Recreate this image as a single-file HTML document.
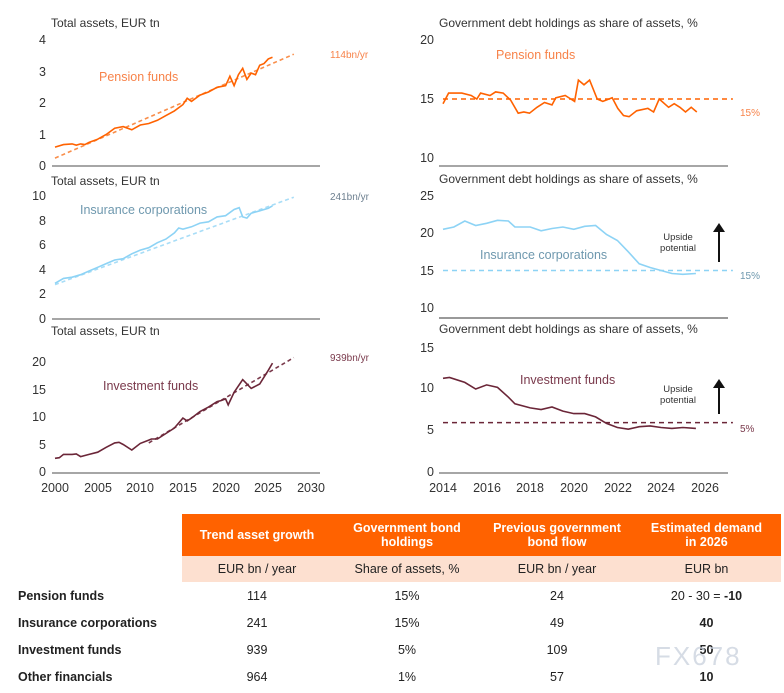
<!DOCTYPE html>
<html><head><meta charset="utf-8"><style>
body{margin:0;background:#fff;width:784px;height:693px;overflow:hidden;font-family:"Liberation Sans",sans-serif}
svg{position:absolute;left:0;top:0}
.t{font-size:12px;fill:#333}
.tk{font-size:12.5px;fill:#333}
table{position:absolute;left:0;top:514px;border-collapse:collapse;font-size:12.5px;color:#222}
td{padding:0;text-align:center}
</style></head><body>
<svg id="s" width="784" height="693" xmlns="http://www.w3.org/2000/svg">
<g fill="none" stroke="#888" stroke-width="1.5">
<line x1="52" y1="166" x2="320" y2="166"/><line x1="52" y1="319" x2="320" y2="319"/><line x1="52" y1="473" x2="320" y2="473"/>
<line x1="439" y1="166" x2="728" y2="166"/><line x1="439" y1="318" x2="728" y2="318" stroke="#333" stroke-width="1"/><line x1="439" y1="473" x2="728" y2="473"/>
</g>
<g class="t"><text x="51" y="27">Total assets, EUR tn</text><text x="51" y="185">Total assets, EUR tn</text><text x="51" y="335">Total assets, EUR tn</text>
<text x="439" y="27">Government debt holdings as share of assets, %</text><text x="439" y="183">Government debt holdings as share of assets, %</text><text x="439" y="333">Government debt holdings as share of assets, %</text></g>
<g class="tk" text-anchor="end">
<text x="46" y="44">4</text><text x="46" y="76">3</text><text x="46" y="107">2</text><text x="46" y="139">1</text><text x="46" y="170">0</text>
<text x="46" y="200">10</text><text x="46" y="225">8</text><text x="46" y="249">6</text><text x="46" y="274">4</text><text x="46" y="298">2</text><text x="46" y="323">0</text>
<text x="46" y="366">20</text><text x="46" y="394">15</text><text x="46" y="421">10</text><text x="46" y="449">5</text><text x="46" y="476">0</text>
<text x="434" y="44">20</text><text x="434" y="103">15</text><text x="434" y="162">10</text>
<text x="434" y="200">25</text><text x="434" y="237">20</text><text x="434" y="275">15</text><text x="434" y="312">10</text>
<text x="434" y="352">15</text><text x="434" y="392">10</text><text x="434" y="434">5</text><text x="434" y="476">0</text>
</g>
<g class="tk" text-anchor="middle">
<text x="55" y="492">2000</text><text x="98" y="492">2005</text><text x="140" y="492">2010</text><text x="183" y="492">2015</text><text x="226" y="492">2020</text><text x="268" y="492">2025</text><text x="311" y="492">2030</text>
<text x="443" y="492">2014</text><text x="487" y="492">2016</text><text x="530" y="492">2018</text><text x="574" y="492">2020</text><text x="618" y="492">2022</text><text x="661" y="492">2024</text><text x="705" y="492">2026</text>
</g>
<g font-size="12.5">
<text x="99" y="81" fill="#F7834A">Pension funds</text>
<text x="80" y="214" fill="#6E98AE">Insurance corporations</text>
<text x="103" y="390" fill="#7A3A4C">Investment funds</text>
<text x="496" y="59" fill="#F7834A">Pension funds</text>
<text x="480" y="259" fill="#6E98AE">Insurance corporations</text>
<text x="520" y="384" fill="#7A3A4C">Investment funds</text>
</g>
<g font-size="10">
<text x="330" y="58" fill="#F7834A">114bn/yr</text>
<text x="330" y="200" fill="#6E8090">241bn/yr</text>
<text x="330" y="361" fill="#7A3A4C">939bn/yr</text>
<text x="740" y="116" fill="#F7834A">15%</text>
<text x="740" y="279" fill="#6E98AE">15%</text>
<text x="740" y="432" fill="#7A3A4C">5%</text>
</g>
<g font-size="9.5" fill="#333" text-anchor="middle">
<text x="678" y="240">Upside</text><text x="678" y="251">potential</text>
<text x="678" y="392">Upside</text><text x="678" y="403">potential</text>
</g>
<g stroke="#111" stroke-width="2"><line x1="719" y1="262" x2="719" y2="230"/><line x1="719" y1="414" x2="719" y2="386"/></g>
<g fill="#111"><polygon points="713,232 725,232 719,223"/><polygon points="713,388 725,388 719,379"/></g>
<g id="g"></g>
</svg>
<table>
<tr style="height:42px"><td style="width:182px"></td>
<td style="width:150px;background:#FF6200;color:#fff;font-weight:bold">Trend asset growth</td>
<td style="width:150px;background:#FF6200;color:#fff;font-weight:bold">Government bond<br>holdings</td>
<td style="width:150px;background:#FF6200;color:#fff;font-weight:bold">Previous government<br>bond flow</td>
<td style="width:149px;background:#FF6200;color:#fff;font-weight:bold">Estimated demand<br>in 2026</td></tr>
<tr style="height:26px"><td></td><td style="background:#FDE0D0">EUR bn / year</td><td style="background:#FDE0D0">Share of assets, %</td><td style="background:#FDE0D0">EUR bn / year</td><td style="background:#FDE0D0">EUR bn</td></tr>
<tr style="height:27px"><td style="text-align:left;padding-left:18px;font-weight:bold">Pension funds</td><td>114</td><td>15%</td><td>24</td><td>20 - 30 = <b>-10</b></td></tr>
<tr style="height:27px"><td style="text-align:left;padding-left:18px;font-weight:bold">Insurance corporations</td><td>241</td><td>15%</td><td>49</td><td><b>40</b></td></tr>
<tr style="height:27px"><td style="text-align:left;padding-left:18px;font-weight:bold">Investment funds</td><td>939</td><td>5%</td><td>109</td><td><b>50</b></td></tr>
<tr style="height:27px"><td style="text-align:left;padding-left:18px;font-weight:bold">Other financials</td><td>964</td><td>1%</td><td>57</td><td><b>10</b></td></tr>
</table>
<div style="position:absolute;left:655px;top:641px;font-size:26px;color:rgba(200,208,220,0.75);letter-spacing:2px">FX678</div>
<script>
var G=document.getElementById('g'),NS='http://www.w3.org/2000/svg';
function pl(d,fx,fy,col,dash,w){var p=document.createElementNS(NS,'polyline');var s=[];for(var i=0;i<d.length;i+=2)s.push(fx(d[i]).toFixed(1)+','+fy(d[i+1]).toFixed(1));p.setAttribute('points',s.join(' '));p.setAttribute('fill','none');p.setAttribute('stroke',col);p.setAttribute('stroke-width',w||1.6);if(dash)p.setAttribute('stroke-dasharray',dash);G.appendChild(p);}
var LX=function(y){return 55+(y-2000)*8.53},RX=function(y){return 443+(y-2014)*21.8};
var PX=function(y){return 443+(y-2014)*18.8};
var OR='#FF6200',BL='#8DD3F5',MR='#6B2638';
pl([2000,0.25,2028,3.55],LX,function(v){return 166-31.5*v},'#F98E4A','4,3');
pl([2000,0.6,2001,0.68,2002,0.7,2002.5,0.66,2003,0.7,2003.5,0.68,2004,0.75,2005,0.85,2006,1.0,2007,1.2,2008,1.25,2009,1.15,2010,1.3,2011,1.35,2012,1.45,2013,1.6,2014,1.75,2015,1.95,2015.5,2.15,2016,2.05,2017,2.25,2018,2.35,2019,2.5,2020,2.55,2020.5,2.85,2021,2.55,2021.5,2.9,2022,3.1,2022.5,2.75,2023,2.95,2023.5,2.9,2024,3.2,2024.5,3.25,2025,3.4,2025.5,3.45],LX,function(v){return 166-31.5*v},OR);
pl([2000,2.8,2028,9.9],LX,function(v){return 319-12.3*v},'#A8DDF7','4,3');
pl([2000,2.9,2001,3.3,2002,3.4,2003,3.6,2004,3.9,2005,4.2,2006,4.5,2007,4.8,2008,4.9,2009,5.3,2010,5.6,2011,5.8,2012,6.2,2013,6.5,2014,7.0,2014.5,7.4,2015,7.3,2016,7.5,2017,7.8,2018,7.9,2019,8.3,2020,8.4,2021,8.9,2021.6,9.05,2022,8.3,2022.5,8.2,2023,8.6,2024,8.8,2025,9.0,2025.5,9.2],LX,function(v){return 319-12.3*v},BL);
pl([2011,5.3,2028,20.8],LX,function(v){return 472-5.5*v},'#7A3A4C','4,3');
pl([2000,2.5,2000.5,2.6,2001,3.2,2002,3.2,2002.5,3.3,2003,2.8,2004,3.2,2005,3.6,2006,4.5,2007,5.3,2007.5,5.4,2008,5.0,2009,4.0,2010,5.2,2011,5.8,2011.3,6.0,2012,6.0,2013,7.0,2014,8.0,2015,9.8,2015.5,9.3,2016,9.8,2017,11,2018,11.8,2019,12.8,2019.5,13.0,2020,13.3,2020.3,12.2,2021,14.5,2022,16.8,2023,15.2,2023.5,15.6,2024,16,2025,18.5,2025.5,19.8],LX,function(v){return 472-5.5*v},MR);
pl([2014,15,2027.3,15],RX,function(v){return 40+(20-v)*11.8},OR,'5,4',1.5);
pl([2014,14.6,2014.3,15.5,2015,15.5,2015.5,15.3,2015.8,15.0,2016,15.5,2016.5,15.3,2016.8,15.6,2017.2,15.5,2017.6,14.9,2018,13.8,2018.3,13.9,2018.6,13.8,2019,14.3,2019.4,14.7,2019.8,14.5,2020,15.1,2020.5,15.3,2020.8,15.0,2021.0,14.8,2021.2,16.6,2021.5,16.2,2021.8,16.6,2022.2,15.0,2022.5,14.8,2023,15.1,2023.3,14.2,2023.6,13.6,2023.9,13.5,2024.3,14.0,2024.9,14.2,2025.2,13.9,2025.5,15.0,2026,14.3,2026.3,14.6,2026.6,14.3,2026.9,13.9,2027.2,14.3,2027.5,13.9],PX,function(v){return 40+(20-v)*11.8},OR);
pl([2014,15,2027.3,15],RX,function(v){return 233+(20-v)*7.5},BL,'5,4',1.5);
pl([2014,20.5,2014.5,20.8,2015,21.6,2015.5,21.0,2016,21.3,2016.5,21.7,2017,21.6,2017.3,20.8,2018,20.8,2018.5,20.3,2019,20.6,2019.5,20.8,2020,20.5,2020.5,20.9,2021,21.0,2021.5,19.8,2022,19.0,2022.5,17.5,2023,15.9,2023.5,15.4,2024,15.0,2024.5,14.6,2025,14.5,2025.6,14.6],RX,function(v){return 233+(20-v)*7.5},BL);
pl([2014,5.9,2027.3,5.9],RX,function(v){return 471-8.2*v},MR,'5,4',1.5);
pl([2014,11.3,2014.3,11.4,2015,10.8,2015.5,10.0,2016,10.5,2016.5,10.2,2017,9.0,2017.3,8.2,2018,7.7,2018.5,7.5,2019,7.8,2019.5,7.3,2020,7.0,2020.5,7.0,2021,6.6,2021.5,5.8,2022,5.3,2022.5,5.1,2023,5.4,2023.5,5.5,2024,5.3,2024.5,5.2,2025,5.3,2025.6,5.2],RX,function(v){return 471-8.2*v},MR);
</script>
</body></html>
